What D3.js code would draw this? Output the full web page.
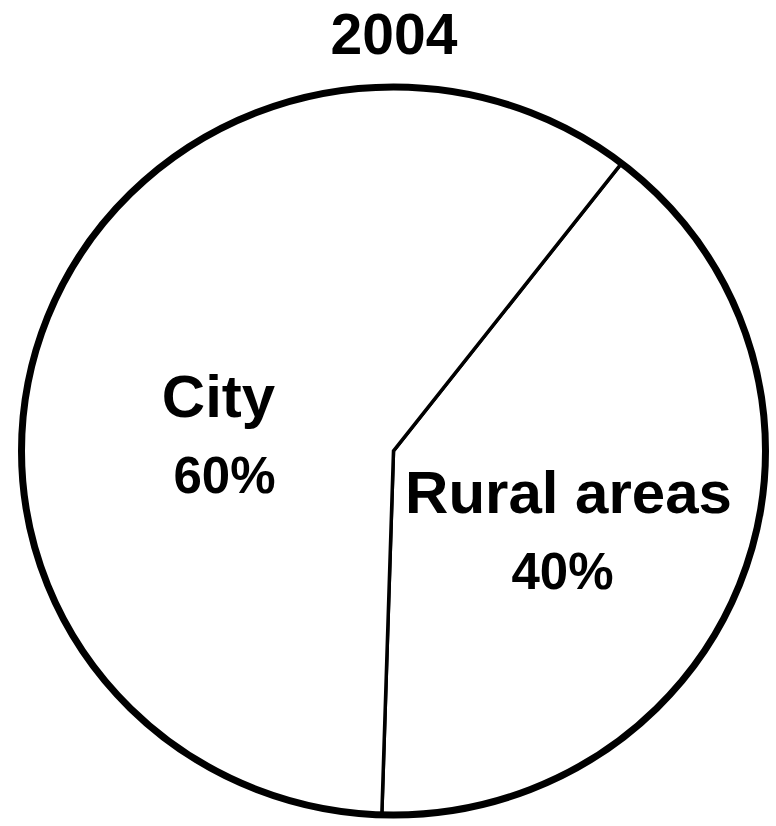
<!DOCTYPE html>
<html>
  <head>
    <meta charset="UTF-8" />
    <style>
      body { margin: 0; background: #fff; }
      svg { display: block; }
      text { font-family: "Liberation Sans", Arial, sans-serif; font-weight: bold; fill: #000; }
    </style>
  </head>
  <body>
    <svg></svg>
    <script src="https://d3js.org/d3.v7.min.js"></script>
    <script>
      // data
      let title = "2004";
      let categories = ["Rural areas", "City"];
      let shares = [40, 60];

      let width = 776,
        height = 826;

      // ellipse geometry of the drawn pie
      let cx = 393.5, cy = 451, rx = 372, ry = 364;
      let rotation = 37.8 * Math.PI / 180; // where the first slice starts
      let labelShift = [0, 28]; // nudge per slice for the name/percent block

      let svg = d3.select("svg").attr("width", width).attr("height", height)
        .attr("viewBox", "0 0 " + width + " " + height);

      svg.append("text")
        .attr("x", 394)
        .attr("y", 54)
        .attr("text-anchor", "middle")
        .style("font-size", "57px")
        .text(title);

      let slices = categories.map((c, i) => ({ name: c, value: shares[i] }));

      let pie = d3.pie()
        .sort(null)
        .value(d => d.value)
        .startAngle(rotation)
        .endAngle(rotation + 2 * Math.PI);

      let arcs = pie(slices);

      let arc = d3.arc().innerRadius(0).outerRadius(rx);

      // squash a circle into the ellipse
      let g = svg.append("g")
        .attr("transform", `translate(${cx},${cy}) scale(1,${ry / rx})`);

      g.selectAll("path.slice")
        .data(arcs)
        .join("path")
        .attr("class", "slice")
        .attr("d", arc)
        .attr("fill", "#fff")
        .attr("stroke", "#000")
        .attr("stroke-width", 3.5)
        .attr("stroke-linejoin", "miter")
        .attr("vector-effect", "non-scaling-stroke");

      g.append("circle")
        .attr("r", rx)
        .attr("fill", "none")
        .attr("stroke", "#000")
        .attr("stroke-width", 7)
        .attr("vector-effect", "non-scaling-stroke");

      // labels at half radius
      let labelArc = d3.arc().innerRadius(rx * 0.5).outerRadius(rx * 0.5);

      let labels = svg.append("g")
        .selectAll("g")
        .data(arcs)
        .join("g")
        .attr("transform", (d, i) => {
          let c = labelArc.centroid(d);
          return `translate(${cx + c[0]},${cy + c[1] * ry / rx + labelShift[i]})`;
        });

      labels.append("text")
        .attr("text-anchor", "middle")
        .style("font-size", "60px")
        .text(d => d.data.name);

      labels.append("text")
        .attr("text-anchor", "middle")
        .attr("y", 76)
        .attr("x", (d, i) => i == 1 ? 6 : -6)
        .style("font-size", "51px")
        .text(d => d.data.value + "%");
    </script>
  </body>
</html>
